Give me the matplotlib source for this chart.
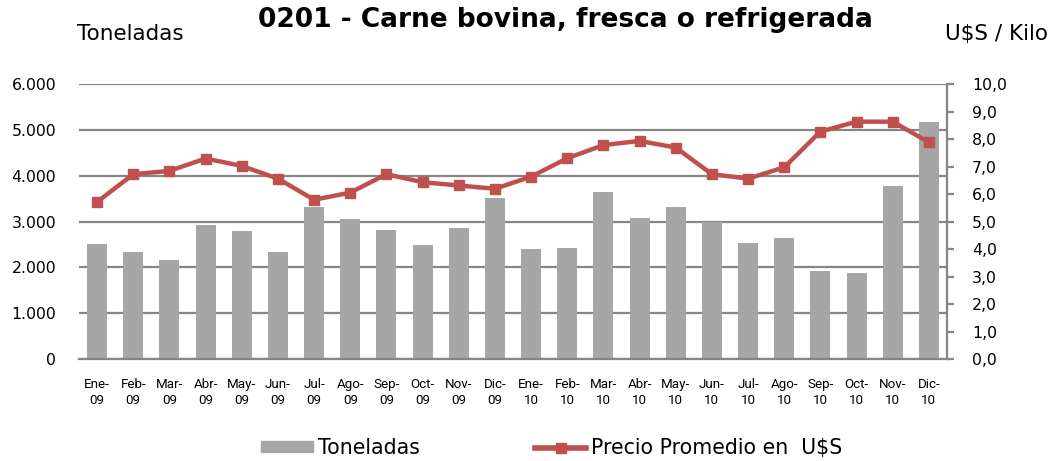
import matplotlib
matplotlib.use("Agg")
import matplotlib.pyplot as plt
from matplotlib.ticker import FuncFormatter, MultipleLocator
from matplotlib.lines import Line2D
from matplotlib.patches import Patch

months = ["Ene-\n09", "Feb-\n09", "Mar-\n09", "Abr-\n09", "May-\n09", "Jun-\n09",
          "Jul-\n09", "Ago-\n09", "Sep-\n09", "Oct-\n09", "Nov-\n09", "Dic-\n09",
          "Ene-\n10", "Feb-\n10", "Mar-\n10", "Abr-\n10", "May-\n10", "Jun-\n10",
          "Jul-\n10", "Ago-\n10", "Sep-\n10", "Oct-\n10", "Nov-\n10", "Dic-\n10"]
toneladas = [2500, 2330, 2170, 2920, 2785, 2330, 3315, 3045, 2805, 2487, 2865, 3505,
             2397, 2426, 3654, 3087, 3320, 3000, 2528, 2637, 1910, 1867, 3785, 5165]
precio = [5.71, 6.72, 6.84, 7.29, 7.02, 6.56, 5.79, 6.05, 6.72, 6.43, 6.31, 6.19,
          6.63, 7.30, 7.78, 7.93, 7.69, 6.72, 6.56, 6.97, 8.27, 8.63, 8.63, 7.88]

title = "0201 - Carne bovina, fresca o refrigerada"
left_label = "Toneladas"
right_label = "U$S / Kilo"
legend_labels = ["Toneladas", "Precio Promedio en  U$S"]

bar_color = "#a6a6a6"
line_color = "#c0504d"
grid_color = "#868686"

fig = plt.figure(figsize=(10.53, 4.61), dpi=100)
ax = fig.add_axes([79/1053, 1 - 359/461, (947 - 79)/1053, (359 - 84)/461])
x = list(range(len(months)))
ax.bar(x, toneladas, width=0.55, color=bar_color, zorder=2)
ax.set_xlim(-0.5, len(months) - 0.5)
ax.set_ylim(0, 6000)
ax.yaxis.set_major_locator(MultipleLocator(1000))
ax.yaxis.set_major_formatter(FuncFormatter(lambda v, p: f"{int(v):,}".replace(",", ".")))
ax.grid(axis="y", color=grid_color, linewidth=1.6, zorder=0)
ax.set_axisbelow(True)
for s in ["left", "top", "right"]:
    ax.spines[s].set_visible(False)
ax.spines["bottom"].set_color(grid_color)
ax.spines["bottom"].set_linewidth(1.6)
ax.tick_params(axis="y", length=0, labelsize=11.3, pad=16.5, labelcolor="black")
ax.tick_params(axis="x", length=0, pad=14)
ax.set_xticks(x)
ax.set_xticklabels(months, fontsize=9.6, family=["Roboto", "DejaVu Sans"], linespacing=1.25)

ax2 = ax.twinx()
ax2.plot(x, precio, color=line_color, linewidth=3.2, marker="s", markersize=7, zorder=3)
ax2.set_ylim(0, 10)
ax2.yaxis.set_major_locator(MultipleLocator(1))
ax2.yaxis.set_major_formatter(FuncFormatter(lambda v, p: f"{v:.1f}".replace(".", ",")))
for s in ["left", "top", "bottom"]:
    ax2.spines[s].set_visible(False)
ax2.spines["right"].set_color(grid_color)
ax2.spines["right"].set_linewidth(1.6)
ax2.tick_params(axis="y", length=5, width=1.6, color=grid_color, labelsize=11.3, pad=13)

fig.text(565/1053, 1 - 20/461, title, ha="center", va="center", fontsize=19, fontweight="bold")
fig.text(77/1053, 1 - 34/461, left_label, ha="left", va="center", fontsize=15.5)
fig.text(1048/1053, 1 - 34/461, right_label, ha="right", va="center", fontsize=15.5)

handles = [Patch(color=bar_color),
           Line2D([0], [0], color=line_color, linewidth=4, marker="s", markersize=7)]
fig.legend(handles, legend_labels, loc="center", bbox_to_anchor=(552/1053, 1 - 448/461), ncol=2,
           frameon=False, prop={"size": 14.8}, handlelength=2.5,
           handleheight=0.45, columnspacing=5.6, handletextpad=0.25)

fig.savefig("out.png", dpi=100)
